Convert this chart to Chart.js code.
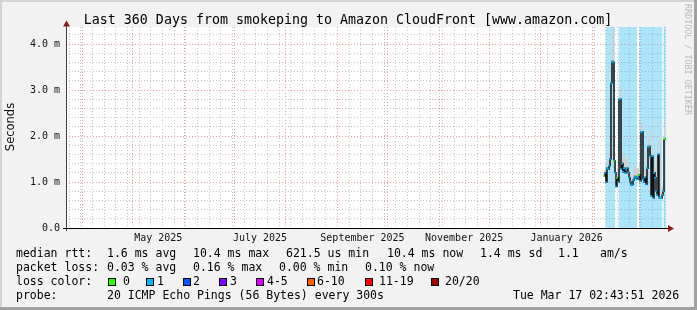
<!DOCTYPE html>
<html>
<head>
<meta charset="utf-8">
<script src="https://cdn.jsdelivr.net/npm/chart.js@4"></script>
<style>
  html, body { margin: 0; padding: 0; background: #f2f2f2; }
  canvas { display: block; }
</style>
</head>
<body>
<canvas id="graficoPing" width="697" height="310"></canvas>
<script>
const title = 'Last 360 Days from smokeping to Amazon CloudFront [www.amazon.com]';
const rangeStart = '2025-03-22T02:43:51Z';
const rangeEnd = '2026-03-17T02:43:51Z';

// x labels, centered on the month they name
const monthLabels = ['May 2025', 'July 2025', 'September 2025', 'November 2025', 'January 2026'];
const labelMonths = ['2025-05', '2025-07', '2025-09', '2025-11', '2026-01'];

const yTop = 4.37;
const yLabels = ['0.0', '1.0 m', '2.0 m', '3.0 m', '4.0 m'];

// rrd steps of 14.4 h, values in ms
const firstStep = '2026-02-07T22:00:00Z';
const stepHours = 14.4;
const median = [1.13, 1.20, 1.00, 1.30, 1.28, 1.35, 1.50, 3.15, 3.62, 3.60,
                1.46, 1.20, 0.90, 1.09, 1.00, 2.80, 2.80, 1.28, 1.40, 1.22,
                1.30, 1.20, 1.27, 1.30, 1.20, 1.10, 1.00, 0.93, 0.95, 1.04,
                1.08, 1.12, 1.10, 1.06, 1.10, 1.15, 1.02, 2.09, 2.09, 1.06,
                1.00, 1.10, 0.95, 1.30, 1.77, 1.77, 1.56, 0.70, 1.56, 0.65,
                1.20, 1.09, 0.80, 0.72, 1.60, 0.66, 0.65, 0.65, 0.72, 0.80,
                1.93, 1.95];
const smokeHigh = [1.25, 1.35, 1.20, 1.50, 1.45, 1.60, 1.90, 3.60, 4.30, 4.37,
                   1.70, 1.40, 1.10, 1.30, 1.20, 3.00, 3.10, 1.50, 1.65, 1.50,
                   1.55, 1.45, 1.55, 1.50, 1.40, 1.30, 1.20, 1.10, 1.15, 1.25,
                   1.30, 1.35, 1.30, 1.30, 1.30, 1.35, 1.20, 2.30, 2.30, 1.25,
                   1.30, 1.60, 1.20, 1.80, 2.00, 2.10, 1.80, 0.90, 2.40, 0.80,
                   1.50, 1.30, 1.50, 0.90, 2.00, 0.80, 2.37, 0.85, 0.90, 1.00,
                   2.20, 2.30];
const lossBin = [0, 1, 1, 1, 1, 1, 1, 1, 1, 1,
                 0, 1, 1, 0, 1, 1, 1, 1, 1, 1,
                 1, 1, 1, 1, 1, 1, 1, 1, 1, 1,
                 1, 1, 1, 1, 1, 0, 1, 1, 1, 1,
                 1, 1, 1, 1, 1, 1, 1, 1, 1, 1,
                 1, 1, 1, 1, 1, 1, 1, 1, 1, 1,
                 0, 0];

const blueBands = [
    ['2026-02-08T17:00Z', '2026-02-14T12:00Z'],
    ['2026-02-16T17:00Z', '2026-02-27T17:00Z'],
    ['2026-03-01T05:00Z', '2026-03-14T22:00Z'],
    ['2026-03-15T17:00Z', '2026-03-17T02:43:51Z']
];

const lossNames = ['0', '1', '2', '3', '4-5', '6-10', '11-19', '20/20'];
const lossColors = ['#26ff00', '#00b8ff', '#0059ff', '#7e00ff', '#dd00ff', '#ff5e00', '#ff0000', '#a10000'];

const statsLines = [
    [['median rtt:', 16], ['1.6 ms avg', 107], ['10.4 ms max', 193], ['621.5 us min', 286],
     ['10.4 ms now', 387], ['1.4 ms sd', 480], ['1.1', 558], ['am/s', 600]],
    [['packet loss:', 16], ['0.03 % avg', 107], ['0.16 % max', 193], ['0.00 % min', 279], ['0.10 % now', 365]],
    [['loss color:', 16]],
    [['probe:', 16], ['20 ICMP Echo Pings (56 Bytes) every 300s', 107], ['Tue Mar 17 02:43:51 2026', 513]]
];
const swatchX = [108, 146, 183, 219, 256, 307, 365, 431];
const swatchTextX = [123, 157, 193, 230, 267, 317, 379, 445];

const startMs = Date.parse(rangeStart);
const endMs = Date.parse(rangeEnd);
const stepMs = stepHours * 3600 * 1000;
const t0 = Date.parse(firstStep);
const DAY = 86400000;

const medianPts = median.map((v, i) => ({ x: t0 + i * stepMs, y: v }));
const smokePts = smokeHigh.map((v, i) => ({ x: t0 + i * stepMs, y: v }));
const bandPts = [];
blueBands.forEach(b => {
    bandPts.push({ x: Date.parse(b[0]), y: yTop });
    bandPts.push({ x: Date.parse(b[1]), y: 0 });
});

const minorGrid = '#c4c4c4';
const majorGrid = '#f29a9a';

function buildXTicks(scale) {
    const ticks = [];
    let w = Date.UTC(2025, 2, 24);
    while (w < endMs) {
        ticks.push({ value: w, kind: 'week' });
        w += 7 * DAY;
    }
    let m = new Date(Date.UTC(2025, 3, 1));
    while (m.getTime() < endMs) {
        ticks.push({ value: m.getTime(), kind: 'month' });
        m = new Date(Date.UTC(m.getUTCFullYear(), m.getUTCMonth() + 1, 1));
    }
    labelMonths.forEach((lm, i) => {
        const [yy, mm] = lm.split('-').map(Number);
        const a = Date.UTC(yy, mm - 1, 1);
        const b = Date.UTC(yy, mm, 1);
        ticks.push({ value: (a + b) / 2, kind: 'label', text: monthLabels[i] });
    });
    ticks.sort((p, q) => p.value - q.value);
    scale.ticks = ticks;
}

function buildYTicks(scale) {
    const ticks = [];
    for (let i = 0; i * 0.2 < yTop; i++) {
        ticks.push({ value: Math.round(i * 2) / 10 });
    }
    scale.ticks = ticks;
}

function isWhole(v) {
    return Math.abs(v - Math.round(v)) < 1e-6;
}

const decor = {
    id: 'decor',
    beforeDraw(chart) {
        const { ctx, chartArea: a } = chart;
        ctx.save();
        ctx.fillStyle = '#f2f2f2';
        ctx.fillRect(0, 0, 697, 310);
        ctx.fillStyle = '#d4d4d4';
        ctx.fillRect(0, 0, 697, 2);
        ctx.fillRect(0, 0, 2, 310);
        ctx.fillStyle = '#a0a0a0';
        ctx.fillRect(0, 307, 697, 3);
        ctx.fillRect(694, 0, 3, 310);
        ctx.fillStyle = '#ffffff';
        ctx.fillRect(a.left, a.top, a.right - a.left, a.bottom - a.top);
        ctx.restore();
    },
    afterDraw(chart) {
        const { ctx, chartArea: a } = chart;
        ctx.save();
        // axes
        ctx.fillStyle = '#404040';
        ctx.fillRect(a.left, 22, 1, a.bottom - 22 + 3);
        ctx.fillStyle = '#000000';
        ctx.fillRect(a.left - 3, a.bottom, a.right - a.left + 8, 1);
        ctx.fillStyle = '#901c1c';
        ctx.beginPath();
        ctx.moveTo(a.left + 0.5, 20.5);
        ctx.lineTo(a.left - 3, 26.5);
        ctx.lineTo(a.left + 4, 26.5);
        ctx.closePath();
        ctx.fill();
        ctx.beginPath();
        ctx.moveTo(a.right + 8, a.bottom + 0.5);
        ctx.lineTo(a.right + 2, a.bottom - 3);
        ctx.lineTo(a.right + 2, a.bottom + 4);
        ctx.closePath();
        ctx.fill();

        // title
        ctx.fillStyle = '#000000';
        ctx.font = '13.3px "DejaVu Sans Mono"';
        ctx.textAlign = 'center';
        ctx.textBaseline = 'alphabetic';
        ctx.fillText(title, 348, 24);

        // y title
        ctx.save();
        ctx.translate(14, 127);
        ctx.rotate(-Math.PI / 2);
        ctx.font = '11.5px "DejaVu Sans"';
        ctx.textAlign = 'center';
        ctx.fillStyle = '#111111';
        ctx.fillText('Seconds', 0, 0);
        ctx.restore();

        // watermark
        ctx.save();
        ctx.translate(685, 4);
        ctx.rotate(Math.PI / 2);
        ctx.font = '8.4px "DejaVu Sans Mono"';
        ctx.textAlign = 'left';
        ctx.fillStyle = '#b8b8b8';
        ctx.fillText('RRDTOOL / TOBI OETIKER', 0, 0);
        ctx.restore();

        // stats
        ctx.font = '11.5px "DejaVu Sans Mono"';
        ctx.textAlign = 'left';
        ctx.fillStyle = '#000000';
        statsLines.forEach((line, i) => {
            line.forEach(seg => ctx.fillText(seg[0], seg[1], 257 + i * 14));
        });
        lossNames.forEach((name, i) => {
            ctx.fillStyle = '#000000';
            ctx.fillRect(swatchX[i], 278, 8, 8);
            ctx.fillStyle = lossColors[i];
            ctx.fillRect(swatchX[i] + 1, 279, 6, 6);
            ctx.fillStyle = '#000000';
            ctx.fillText(name, swatchTextX[i], 285);
        });
        ctx.restore();
    }
};

Chart.defaults.font.family = '"DejaVu Sans Mono"';

new Chart(document.getElementById('graficoPing'), {
    type: 'line',
    data: {
        datasets: [
            {
                label: 'loss',
                data: medianPts,
                showLine: false,
                pointStyle: 'rect',
                pointRadius: 1.2,
                pointBorderWidth: 0,
                pointBackgroundColor: lossBin.map(l => lossColors[l])
            },
            {
                label: 'median',
                data: medianPts,
                stepped: true,
                borderColor: '#111111',
                borderWidth: 1.5,
                pointRadius: 0,
                fill: false
            },
            {
                label: 'smoke',
                data: smokePts,
                stepped: true,
                borderWidth: 0,
                pointRadius: 0,
                backgroundColor: '#cfcfcf',
                fill: 1
            },
            {
                label: 'bands',
                data: bandPts,
                stepped: true,
                borderWidth: 0,
                pointRadius: 0,
                backgroundColor: 'rgba(21,178,241,0.35)',
                fill: 'origin'
            }
        ]
    },
    options: {
        responsive: false,
        animation: false,
        devicePixelRatio: 1,
        layout: { padding: { left: 0, top: 27, right: 31, bottom: 0 } },
        plugins: {
            legend: { display: false },
            tooltip: { enabled: false }
        },
        scales: {
            x: {
                type: 'linear',
                min: startMs,
                max: endMs,
                afterBuildTicks: buildXTicks,
                afterFit: s => { s.height = 82; },
                border: { display: false, dash: [1, 2] },
                grid: {
                    drawTicks: false,
                    lineWidth: 1,
                    color: c => c.tick && c.tick.kind === 'month' ? majorGrid
                        : c.tick && c.tick.kind === 'week' ? minorGrid : 'rgba(0,0,0,0)'
                },
                ticks: {
                    autoSkip: false,
                    maxRotation: 0,
                    minRotation: 0,
                    padding: 4,
                    color: '#111111',
                    font: { size: 10 },
                    callback: (v, i, ticks) => ticks[i].kind === 'label' ? ticks[i].text : ''
                }
            },
            y: {
                min: 0,
                max: yTop,
                afterBuildTicks: buildYTicks,
                afterFit: s => { s.width = 66; },
                border: { display: false, dash: [1, 2] },
                grid: {
                    drawTicks: false,
                    color: c => isWhole(c.tick.value) ? majorGrid : minorGrid
                },
                ticks: {
                    autoSkip: false,
                    padding: 6,
                    color: '#111111',
                    font: { size: 10 },
                    callback: v => isWhole(v) ? yLabels[Math.round(v)] : ''
                }
            }
        }
    },
    plugins: [decor]
});
</script>
</body>
</html>
